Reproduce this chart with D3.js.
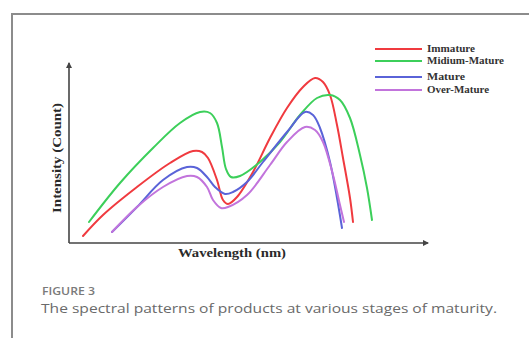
<!DOCTYPE html>
<html>
<head>
<meta charset="utf-8">
<script src="https://cdn.jsdelivr.net/npm/d3@7"></script>
<style>
  body { margin: 0; background: #fff; }
  svg { display: block; }
</style>
</head>
<body>
<svg id="chart" width="529" height="338"></svg>
<script>
// spectra (arbitrary wavelength / intensity units)
const seriesNames = ['Immature', 'Midium-Mature', 'Mature', 'Over-Mature'];
const seriesColors = ['#f03a3f', '#3ccf5a', '#5a63d8', '#c274dc'];

const immature = [
  [14, 7], [34, 28], [68, 56], [101, 80], [124, 92], [133, 91], [139, 85],
  [148, 63], [154, 43], [159, 39], [168, 46], [184, 71], [201, 105], [218, 135],
  [234, 156], [246, 165], [254, 161], [261, 148], [268, 118], [274, 85],
  [281, 45], [284, 21]
];
const midiumMature = [
  [20, 21], [51, 60], [84, 95], [111, 120], [131, 131], [141, 130], [148, 120],
  [153, 96], [157, 74], [162, 66], [171, 67], [191, 81], [211, 101], [231, 128],
  [248, 145], [261, 148], [271, 143], [281, 125], [291, 88], [298, 55], [303, 23]
];
const mature = [
  [43, 11], [68, 36], [94, 63], [118, 76], [128, 75], [138, 66], [146, 56],
  [156, 49], [164, 51], [178, 61], [194, 81], [218, 111], [236, 131], [244, 128],
  [251, 115], [261, 81], [268, 45], [273, 15]
];
const overMature = [
  [43, 11], [68, 36], [94, 56], [118, 67], [128, 66], [138, 56], [144, 43],
  [152, 35], [159, 36], [178, 48], [201, 78], [218, 101], [236, 116], [246, 113],
  [254, 101], [264, 68], [271, 38], [275, 21]
];
const allSeries = [immature, midiumMature, mature, overMature];

const svg = d3.select('#chart');

// figure frame (top + left rule)
svg.append('path')
  .attr('d', 'M12,338 V14 H529')
  .attr('fill', 'none')
  .attr('stroke', '#8c8c8c')
  .attr('stroke-width', 2);

const x = d3.scaleLinear().domain([0, 360]).range([69, 429]);
const y = d3.scaleLinear().domain([0, 180]).range([243, 63]);

const defs = svg.append('defs');
defs.append('marker')
  .attr('id', 'arrow')
  .attr('viewBox', '0 0 6 6')
  .attr('refX', 5).attr('refY', 3)
  .attr('markerWidth', 4).attr('markerHeight', 4)
  .attr('orient', 'auto')
  .append('path')
  .attr('d', 'M0,0 L6,3 L0,6 Z')
  .attr('fill', '#444');

// axes: no ticks, just the lines with arrow ends
const xAxis = svg.append('g')
  .attr('transform', `translate(0,${y(0)})`)
  .call(d3.axisBottom(x).ticks(0).tickSizeOuter(0));
const yAxis = svg.append('g')
  .attr('transform', `translate(${x(0)},0)`)
  .call(d3.axisLeft(y).ticks(0).tickSizeOuter(0));

xAxis.select('.domain')
  .attr('d', `M${x(0)},0 H${x(360) - 1}`)
  .attr('stroke', '#444').attr('stroke-width', 1.6)
  .attr('marker-end', 'url(#arrow)');
yAxis.select('.domain')
  .attr('d', `M0,0 V${y(180) - y(0)}`)
  .attr('transform', `translate(0,${y(0)})`)
  .attr('stroke', '#444').attr('stroke-width', 1.6)
  .attr('marker-end', 'url(#arrow)');

const line = d3.line()
  .x(d => x(d[0]))
  .y(d => y(d[1]))
  .curve(d3.curveCatmullRom.alpha(0.5));

svg.append('g')
  .selectAll('path')
  .data(allSeries)
  .join('path')
  .attr('d', line)
  .attr('fill', 'none')
  .attr('stroke', (d, i) => seriesColors[i])
  .attr('stroke-width', 2)
  .attr('stroke-linecap', 'round')
  .attr('stroke-linejoin', 'round');

// axis titles
svg.append('text')
  .attr('x', 232).attr('y', 257)
  .attr('text-anchor', 'middle')
  .attr('font-family', 'Liberation Serif, Times New Roman, serif')
  .attr('font-weight', 'bold')
  .attr('font-size', 12)
  .attr('fill', '#2a2a2a')
  .attr('textLength', 108)
  .attr('lengthAdjust', 'spacingAndGlyphs')
  .text('Wavelength (nm)');

svg.append('text')
  .attr('transform', 'translate(61,158) rotate(-90)')
  .attr('text-anchor', 'middle')
  .attr('font-family', 'Liberation Serif, Times New Roman, serif')
  .attr('font-weight', 'bold')
  .attr('font-size', 12)
  .attr('fill', '#2a2a2a')
  .attr('textLength', 110)
  .attr('lengthAdjust', 'spacingAndGlyphs')
  .text('Intensity (Count)');

// legend
const legendY = [49, 61, 77, 90];
const legendWidths = [48, 77, 38, 62];
const legend = svg.append('g')
  .selectAll('g')
  .data(seriesNames)
  .join('g')
  .attr('transform', (d, i) => `translate(375,${legendY[i]})`);

legend.append('line')
  .attr('x1', 0).attr('x2', 47)
  .attr('stroke', (d, i) => seriesColors[i])
  .attr('stroke-width', 2);

legend.append('text')
  .attr('x', 52).attr('y', 3)
  .attr('font-family', 'Liberation Serif, Times New Roman, serif')
  .attr('font-weight', 'bold')
  .attr('font-size', 9.5)
  .attr('fill', '#333')
  .attr('textLength', (d, i) => legendWidths[i])
  .attr('lengthAdjust', 'spacingAndGlyphs')
  .text(d => d);

// caption
svg.append('text')
  .attr('x', 42).attr('y', 295)
  .attr('font-family', 'Open Sans, sans-serif')
  .attr('font-weight', 600)
  .attr('font-size', 10)
  .attr('fill', '#7a7a7a')
  .attr('textLength', 53)
  .attr('lengthAdjust', 'spacingAndGlyphs')
  .text('FIGURE 3');

svg.append('text')
  .attr('x', 41).attr('y', 313)
  .attr('font-family', 'Open Sans, sans-serif')
  .attr('font-size', 13.5)
  .attr('fill', '#6a6a6a')
  .attr('textLength', 456)
  .attr('lengthAdjust', 'spacingAndGlyphs')
  .text('The spectral patterns of products at various stages of maturity.');
</script>
</body>
</html>
